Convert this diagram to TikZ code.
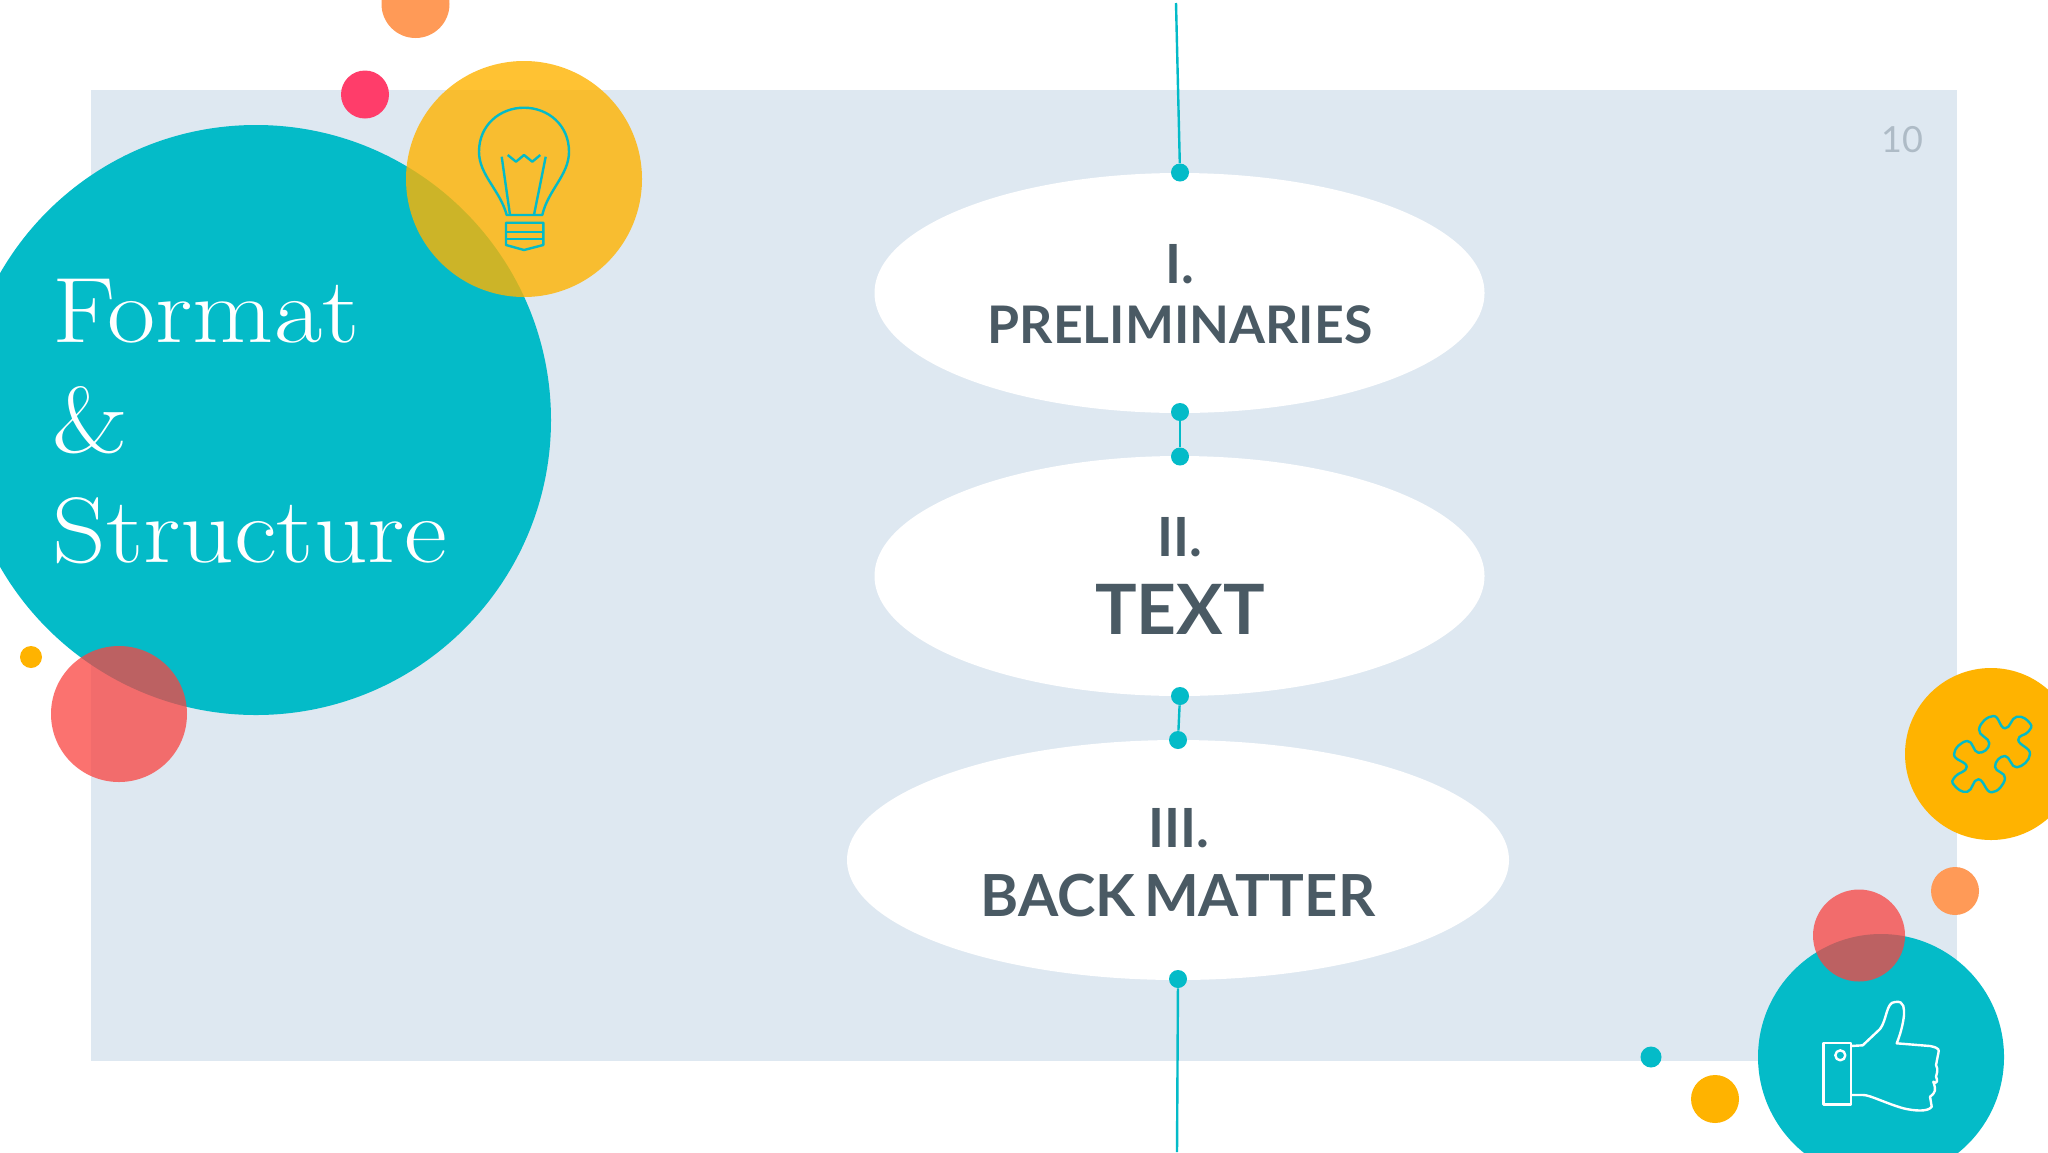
\documentclass[tikz,border=0pt]{standalone}
\usepackage{fontspec}
\setmainfont[WordSpace=.6]{Lato}
\usetikzlibrary{positioning,shapes.geometric}
\definecolor{tealc}{HTML}{04BBC8}
\definecolor{yellowc}{HTML}{FFB300}
\definecolor{orangec}{HTML}{FF9A57}
\definecolor{redc}{HTML}{FF3D6A}
\definecolor{salmonc}{HTML}{FA4340}
\definecolor{panelc}{HTML}{DEE8F1}
\definecolor{inkc}{HTML}{4A5A64}
\definecolor{pagec}{HTML}{AEBBC6}
\newfontfamily\lmr[FakeStretch=1.13]{Latin Modern Roman}
\tikzset{
  blob/.style={circle, inner sep=0pt, minimum size=#1},
  oval/.style={ellipse, fill=white, inner sep=0pt, minimum height=120pt},
  pin/.style={circle, fill=tealc, inner sep=0pt, minimum size=9pt},
  wire/.style={tealc, line width=1.2pt},
  icon/.style={line width=1.2pt, line join=round},
  head/.style={text=inkc, inner sep=0pt, font=\bfseries},
  title/.style={text=white, inner sep=0pt, anchor=base west, font=\fontsize{46.5}{46.5}\selectfont\lmr}
}
\begin{document}
\begin{tikzpicture}[x=0.5pt,y=-0.5pt]
\useasboundingbox (0,0) rectangle (2048,1152);
\fill[white] (0,0) rectangle (2048,1152);
\fill[panelc] (91,90) rectangle (1957,1061);
% left group
\node[blob=295pt, fill=tealc] (big) at (256,420){};
\node[blob=34pt, fill=orangec] (o1) at (415.5,4){};
\node[blob=24pt, fill=redc] (r1) at (365,94.5){};
\node[blob=118pt, fill=yellowc, fill opacity=.8] (bulb) at (524,179){};
\node[blob=11pt, fill=yellowc] (y1) at (31,657){};
\node[blob=68pt, fill=salmonc, fill opacity=.75] (s1) at (119,714){};
% right group
\node[blob=86pt, fill=yellowc] (puzzle) at (1991,754){};
\node[blob=24pt, fill=orangec] (o2) at (1955,891){};
\node[blob=123pt, fill=tealc] (thumb) at (1881,1057){};
\node[blob=46pt, fill=salmonc, fill opacity=.75] (s2) at (1859,935.5){};
\node[blob=10.5pt, fill=tealc] (t1) at (1651,1057){};
\node[blob=24pt, fill=yellowc] (y2) at (1715,1099){};
% ovals
\node[oval, minimum width=305pt] (prelim) at (1179.5,293){};
\node[oval, minimum width=305pt] (text) at (1179.5,576){};
\node[oval, minimum width=331pt] (back) at (1178,860){};
% pins and wires
\coordinate (start) at (1176,3);
\coordinate (end) at (1177,1152);
\node[pin] (p1) at (1180,172.5){};
\node[pin] (p2) at (1180,412){};
\node[pin] (p3) at (1180,456.5){};
\node[pin] (p4) at (1180,696){};
\node[pin] (p5) at (1178,740){};
\node[pin] (p6) at (1178,979){};
\draw[wire] (start) -- (p1);
\draw[wire] (p2) -- (p3);
\draw[wire] (p4) -- (p5);
\draw[wire] (p6) -- (end);
% labels
\node[title] (format) at (52,342){Format};
\node[title] (amp) at (52,452){\&};
\node[title] (structure) at (52,562){Structure};
\node[head, font=\bfseries\fontsize{27}{27}\selectfont] (one) at (1180,264){I.};
\node[head, font=\bfseries\fontsize{25.9}{25.9}\selectfont] (onetext) at (1180,325){PRELIMINARIES};
\node[head, font=\bfseries\fontsize{27}{27}\selectfont] (two) at (1180,537){II.};
\node[head, font=\bfseries\fontsize{34.7}{34.7}\selectfont] (twotext) at (1180,609){TEXT};
\node[head, font=\bfseries\fontsize{27}{27}\selectfont] (three) at (1179,828){III.};
\node[head, font=\bfseries\fontsize{29}{29}\selectfont] (threetext) at (1178,896){BACK MATTER};
\node[text=pagec, inner sep=0pt, font=\fontsize{18}{18}\selectfont] (page) at (1902,140){10};
% bulb icon
\draw[icon, tealc] (506.7,215) .. controls (500,190) and (479,175) .. (479,151.7) .. controls (479,125) and (500,107.7) .. (524,107.7) .. controls (548,107.7) and (569,125) .. (569,151.7) .. controls (569,175) and (548,190) .. (542.3,215) -- cycle;
\draw[icon, tealc] (501.7,156.7) -- (510,215) (545.7,156.7) -- (534,215);
\draw[icon, tealc] (507.7,155) -- (516,161.7) -- (524,155) -- (532.3,161.7) -- (540.3,155);
\draw[icon, tealc] (506,222.7) -- (543.3,222.7) -- (543.3,245) -- (524,250) -- (506,245) -- cycle;
\draw[icon, tealc] (506,231.7) -- (543.3,231.7) (506,239) -- (543.3,239);
% puzzle icon
\draw[icon, tealc] plot[smooth cycle, tension=.85] coordinates {(1993.3,716) (2005,728.3) (2016.7,716.7) (2030,723.3) (2028.3,731.7) (2018.3,740) (2030,754) (2016.7,767.3) (2005,756) (1995,766.7) (2005,778.3) (1991.7,792.3) (1978.3,779.3) (1967.3,791.7) (1954,785) (1955,776.7) (1966.7,766.7) (1954,754.3) (1967.3,741) (1978.3,752.7) (1989.3,743.3) (1979,729.3)};
% thumb icon
\draw[icon, white] (1823.3,1042.7) rectangle (1850.7,1104.3);
\draw[icon, white] (1840.3,1055.3) circle[radius=5];
\draw[icon, white] (1850.7,1046) -- (1862.7,1045.3) -- (1880,1029) .. controls (1887,1020) and (1886,1002) .. (1895,1002) .. controls (1905,1000) and (1904,1010) .. (1904,1015) .. controls (1903,1025) and (1900,1035) .. (1896.7,1043.3) -- (1930,1046) .. controls (1940,1048) and (1939,1050) .. (1938.3,1053.3) -- (1936,1065) .. controls (1939,1070) and (1936,1075) .. (1936,1076.7) .. controls (1938,1080) and (1937,1085) .. (1933.3,1081.7) .. controls (1936,1090) and (1936,1092) .. (1930,1096.7) -- (1931.7,1106.7) .. controls (1928,1112) and (1915,1111) .. (1903.3,1108.3) .. controls (1885,1103) and (1870,1095) .. (1863.3,1095) -- (1850.7,1095);
\end{tikzpicture}
\end{document}
